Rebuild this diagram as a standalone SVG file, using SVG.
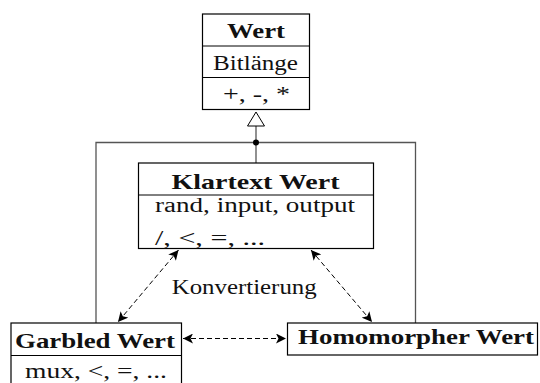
<svg xmlns="http://www.w3.org/2000/svg" width="540" height="383" viewBox="0 0 540 383">
<style>
.box{fill:#fff;stroke:#000;stroke-width:1.2}
.div{stroke:#000;stroke-width:1}
.t{font-family:"Liberation Serif","Times New Roman",serif;font-size:20.5px;fill:#111}
.b{font-weight:bold;font-size:21px}
.inh{fill:none;stroke:#555;stroke-width:1.3}
.dash{fill:none;stroke:#000;stroke-width:1;stroke-dasharray:5,3}
</style>
<defs>
<marker id="ah" viewBox="0 0 10 10" refX="10" refY="5" markerWidth="10" markerHeight="10" markerUnits="userSpaceOnUse" orient="auto-start-reverse">
<path d="M0,0 L10,5 L0,10 L2.5,5 Z" fill="#000"/>
</marker>
</defs>
<rect width="540" height="383" fill="#fff"/>
<g id="connectors">
<polyline class="inh" points="96,323 96,142.5 415.5,142.5 415.5,323"/>
<line class="inh" x1="256" y1="126" x2="256" y2="163"/>
<circle cx="256" cy="142.5" r="3" fill="#000"/>
<polygon points="256,112 247.5,126 264.5,126" fill="#fff" stroke="#000" stroke-width="1"/>
<line class="dash" x1="178.5" y1="250" x2="118" y2="322" marker-start="url(#ah)" marker-end="url(#ah)"/>
<line class="dash" x1="311" y1="250" x2="372" y2="322" marker-start="url(#ah)" marker-end="url(#ah)"/>
<line class="dash" x1="183" y1="338.5" x2="286" y2="338.5" marker-start="url(#ah)" marker-end="url(#ah)"/>
<text class="t" x="171.7" y="293.5" textLength="145" lengthAdjust="spacingAndGlyphs">Konvertierung</text>
</g>
<g id="wert">
<rect class="box" x="202.5" y="14" width="107" height="95.5"/>
<line class="div" x1="202.5" y1="46" x2="309.5" y2="46"/>
<line class="div" x1="202.5" y1="77.5" x2="309.5" y2="77.5"/>
<text class="t b" x="256" y="37.5" text-anchor="middle" textLength="58" lengthAdjust="spacingAndGlyphs">Wert</text>
<text class="t" x="255.5" y="69.5" text-anchor="middle" textLength="85" lengthAdjust="spacingAndGlyphs">Bitlänge</text>
<text class="t" x="256.5" y="101" text-anchor="middle" textLength="67" lengthAdjust="spacingAndGlyphs">+, -, *</text>
</g>
<g id="klartext">
<rect class="box" x="138.5" y="163" width="235" height="85.5"/>
<line class="div" x1="138.5" y1="195" x2="373.5" y2="195"/>
<text class="t b" x="255.5" y="188.5" text-anchor="middle" textLength="168" lengthAdjust="spacingAndGlyphs">Klartext Wert</text>
<text class="t" x="155" y="212" textLength="200" lengthAdjust="spacingAndGlyphs">rand, input, output</text>
<text class="t" x="155" y="245" textLength="110" lengthAdjust="spacingAndGlyphs">/, &lt;, =, ...</text>
</g>
<g id="garbled">
<rect class="box" x="11" y="323" width="170.5" height="70"/>
<line class="div" x1="11" y1="355.5" x2="181.5" y2="355.5"/>
<text class="t b" x="95" y="347.5" text-anchor="middle" textLength="160" lengthAdjust="spacingAndGlyphs">Garbled Wert</text>
<text class="t" x="96" y="378" text-anchor="middle" textLength="142" lengthAdjust="spacingAndGlyphs">mux, &lt;, =, ...</text>
</g>
<g id="homomorpher">
<rect class="box" x="287.5" y="323" width="250" height="32"/>
<text class="t b" x="416" y="343.5" text-anchor="middle" textLength="236" lengthAdjust="spacingAndGlyphs">Homomorpher Wert</text>
</g>
</svg>
